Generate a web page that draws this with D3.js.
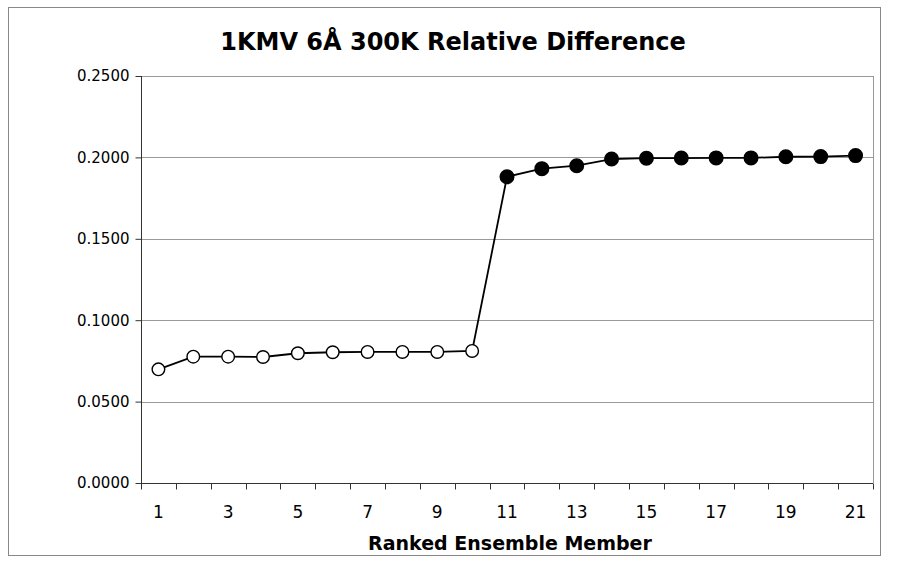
<!DOCTYPE html>
<html>
<head>
<meta charset="utf-8">
<title>1KMV Relative Difference</title>
<script src="https://d3js.org/d3.v7.min.js"></script>
<style>
    body { margin: 0; background: #fff; }
    svg text { font-family: "DejaVu Sans", Verdana, sans-serif; fill: #000; }
</style>
</head>
<body>
<script>
// ranked ensemble members and their relative differences
var members = d3.range(1, 22);
var openValues = [0.0698, 0.0776, 0.0776, 0.0774, 0.0797, 0.0803, 0.0805, 0.0805, 0.0805, 0.0811];
var filledValues = [0.1881, 0.1931, 0.1949, 0.1990, 0.1995, 0.1996, 0.1997, 0.1997, 0.2004, 0.2005, 0.2011];
var yTicks = [0, 0.05, 0.10, 0.15, 0.20, 0.25];
var xTickLabels = [1, 3, 5, 7, 9, 11, 13, 15, 17, 19, 21];

var values = openValues.concat(filledValues);
var data = members.map(function(m, i) {
    return {member: m, value: values[i], filled: i >= openValues.length};
});

var W = 900, H = 565;
var plot = {left: 141, right: 873, top: 76, bottom: 483};

var svg = d3.select("body").append("svg")
    .attr("width", W)
    .attr("height", H);

// outer frame
svg.append("rect")
    .attr("x", 8.5).attr("y", 7.5)
    .attr("width", 872).attr("height", 548)
    .attr("fill", "#fff")
    .attr("stroke", "#888")
    .attr("stroke-width", 1);

var xScale = d3.scaleBand()
    .domain(members)
    .range([plot.left, plot.right]);
var yScale = d3.scaleLinear()
    .domain([0, 0.25])
    .range([plot.bottom, plot.top]);

// gridlines
svg.append("g")
    .selectAll("line")
    .data(yTicks.slice(1))
    .enter()
    .append("line")
    .attr("x1", plot.left).attr("x2", plot.right)
    .attr("y1", function(d){ return Math.round(yScale(d)) + 0.5; })
    .attr("y2", function(d){ return Math.round(yScale(d)) + 0.5; })
    .attr("stroke", "#999")
    .attr("stroke-width", 1);

// right border of plot area
svg.append("line")
    .attr("x1", plot.right + 0.5).attr("x2", plot.right + 0.5)
    .attr("y1", yScale(0.25)).attr("y2", plot.bottom)
    .attr("stroke", "#999");

// y axis
var yAxis = svg.append("g")
    .attr("transform", "translate(" + (plot.left + 0.5) + ",0)")
    .call(d3.axisLeft(yScale)
        .tickValues(yTicks)
        .tickFormat(d3.format(".4f"))
        .tickSize(6)
        .tickPadding(6));
yAxis.selectAll("text").style("font-size", "15px");
yAxis.selectAll("line, path").attr("stroke", "#333");
yAxis.select(".domain").attr("d", "M0," + plot.top + "V" + plot.bottom);

// x axis: ticks at category boundaries, labels on odd members
var xAxis = svg.append("g")
    .attr("transform", "translate(0," + (plot.bottom + 0.5) + ")");
xAxis.append("line")
    .attr("x1", plot.left).attr("x2", plot.right)
    .attr("stroke", "#333");
var bounds = members.map(function(m){ return xScale(m); }).concat([plot.right]);
xAxis.selectAll(".tick")
    .data(bounds)
    .enter()
    .append("line")
    .attr("class", "tick")
    .attr("x1", function(d){ return Math.round(d) + 0.5; })
    .attr("x2", function(d){ return Math.round(d) + 0.5; })
    .attr("y1", 0).attr("y2", 6)
    .attr("stroke", "#333");
xAxis.selectAll(".lbl")
    .data(xTickLabels)
    .enter()
    .append("text")
    .attr("class", "lbl")
    .attr("x", function(d){ return xScale(d) + xScale.bandwidth() / 2; })
    .attr("y", 34)
    .attr("text-anchor", "middle")
    .style("font-size", "17px")
    .text(function(d){ return d; });

// title and axis label
svg.append("text")
    .attr("x", 453).attr("y", 50)
    .attr("text-anchor", "middle")
    .style("font-size", "24px")
    .style("font-weight", "bold")
    .text("1KMV 6Å 300K Relative Difference");

svg.append("text")
    .attr("x", 510).attr("y", 550)
    .attr("text-anchor", "middle")
    .style("font-size", "19px")
    .style("font-weight", "bold")
    .text("Ranked Ensemble Member");

// line
var cx = function(d){ return xScale(d.member) + xScale.bandwidth() / 2; };
var line = d3.line()
    .x(cx)
    .y(function(d){ return yScale(d.value); });
svg.append("path")
    .datum(data)
    .attr("d", line)
    .attr("fill", "none")
    .attr("stroke", "#000")
    .attr("stroke-width", 1.8);

// markers
svg.selectAll(".dot")
    .data(data)
    .enter()
    .append("circle")
    .attr("class", "dot")
    .attr("cx", cx)
    .attr("cy", function(d){ return yScale(d.value); })
    .attr("r", function(d){ return d.filled ? 6.8 : 6.3; })
    .attr("fill", function(d){ return d.filled ? "#000" : "#fff"; })
    .attr("stroke", "#000")
    .attr("stroke-width", 1.4);
</script>
</body>
</html>
